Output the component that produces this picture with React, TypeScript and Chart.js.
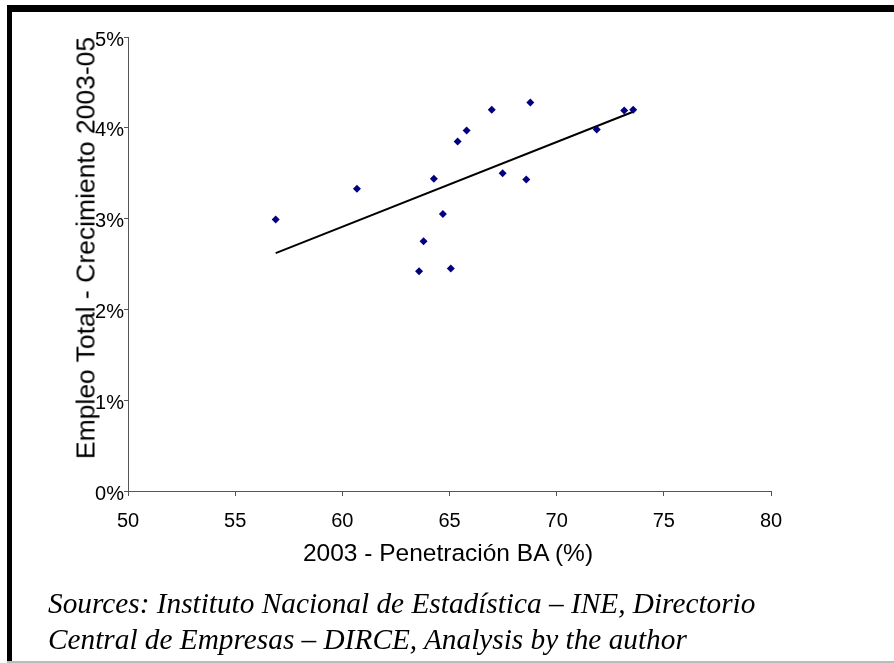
import React, { useEffect, useRef } from "react";
import { Chart, registerables } from "chart.js";

Chart.register(...registerables);

const penetration = [56.89, 60.68, 63.58, 63.79, 64.27, 64.69, 65.06, 65.38, 65.8, 66.97, 67.48, 68.58, 68.77, 71.87, 73.15, 73.57];
const employmentGrowth = [2.99, 3.33, 2.42, 2.75, 3.44, 3.05, 2.45, 3.85, 3.97, 4.2, 3.5, 3.43, 4.28, 3.98, 4.19, 4.2];
const trendX = [56.89, 73.6];
const trendY = [2.62, 4.18];

const xTitle = "2003 - Penetración BA (%)";
const yTitle = "Empleo Total - Crecimiento 2003-05";
const sourceLines = [
  "Sources: Instituto Nacional de Estadística – INE, Directorio",
  "Central de Empresas – DIRCE, Analysis by the author",
];

const SANS = "'Liberation Sans', Arial, sans-serif";
const SERIF = "'Liberation Serif', 'Times New Roman', serif";

export default function App() {
  const ref = useRef<HTMLCanvasElement | null>(null);

  useEffect(() => {
    if (!ref.current) return;
    const pts = penetration.map((x, i) => ({ x, y: employmentGrowth[i] }));
    const trend = trendX.map((x, i) => ({ x, y: trendY[i] }));
    const chart = new Chart(ref.current, {
      type: "scatter",
      data: {
        datasets: [
          {
            data: pts,
            pointStyle: "rectRot",
            pointRadius: 4,
            backgroundColor: "#000080",
            borderColor: "#000080",
            borderWidth: 0,
          },
          {
            type: "line",
            data: trend,
            showLine: true,
            borderColor: "#000000",
            borderWidth: 2,
            pointRadius: 0,
            fill: false,
          } as any,
        ],
      },
      options: {
        responsive: false,
        animation: false,
        devicePixelRatio: 1,
        layout: { padding: { left: 0, top: 37, right: 123, bottom: 132 } },
        plugins: { legend: { display: false }, tooltip: { enabled: false } },
        scales: {
          x: {
            type: "linear",
            min: 50,
            max: 80,
            afterFit: (s: any) => {
              s.height = 40;
            },
            ticks: {
              stepSize: 5,
              color: "#000",
              font: { family: SANS, size: 20 },
              padding: 13,
            },
            grid: { drawOnChartArea: false, tickLength: 5, color: "#555" },
            border: { color: "#555", width: 1 },
          },
          y: {
            type: "linear",
            min: 0,
            max: 5,
            afterFit: (s: any) => {
              s.width = 128;
            },
            ticks: {
              stepSize: 1,
              color: "#000",
              font: { family: SANS, size: 20 },
              padding: 0,
              labelOffset: 3,
              callback: (v: any) => v + "%",
            },
            grid: { drawOnChartArea: false, tickLength: 4, color: "#555" },
            border: { color: "#555", width: 1 },
          },
        },
      },
    });
    return () => chart.destroy();
  }, []);

  return (
    <div style={{ position: "absolute", left: 0, top: 0, width: 894, height: 663, background: "#fff", overflow: "hidden" }}>
      <canvas ref={ref} width={894} height={663} style={{ position: "absolute", left: 0, top: 0 }} />
      <div style={{ position: "absolute", left: 7, top: 5, width: 887, height: 7, background: "#000" }} />
      <div style={{ position: "absolute", left: 7, top: 5, width: 5, height: 657, background: "#000" }} />
      <div style={{ position: "absolute", left: 7, top: 661, width: 887, height: 2, background: "#bbb" }} />
      <div
        style={{
          position: "absolute",
          left: 86,
          top: 248,
          transform: "translate(-50%, -50%) rotate(-90deg)",
          fontFamily: SANS,
          fontSize: 26.5,
          whiteSpace: "nowrap",
          color: "#000",
        }}
      >
        {yTitle}
      </div>
      <div
        style={{
          position: "absolute",
          left: 448,
          top: 553,
          transform: "translate(-50%, -50%)",
          fontFamily: SANS,
          fontSize: 24.5,
          whiteSpace: "nowrap",
          color: "#000",
        }}
      >
        {xTitle}
      </div>
      <div
        style={{
          position: "absolute",
          left: 48,
          top: 585,
          fontFamily: SERIF,
          fontStyle: "italic",
          fontSize: 29.3,
          lineHeight: "36px",
          whiteSpace: "nowrap",
          color: "#000",
        }}
      >
        {sourceLines.map((l, i) => (
          <div key={i}>{l}</div>
        ))}
      </div>
    </div>
  );
}
